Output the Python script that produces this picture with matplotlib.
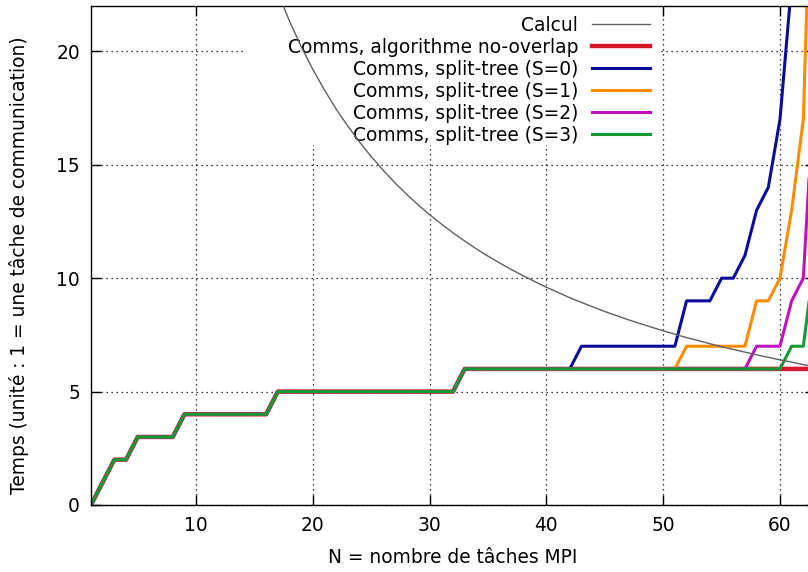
import matplotlib
matplotlib.use("Agg")
import matplotlib.pyplot as plt
from matplotlib.patches import Rectangle

# N = nombre de taches MPI
n_values = list(range(1, 64))

# algorithme no-overlap
no_overlap = ([0, 1, 2, 2] + [3] * 4 + [4] * 8 + [5] * 16 + [6] * 31)

# split-tree : identique au no-overlap puis decroche a droite
split_s0 = no_overlap[:42] + [7] * 9 + [9, 9, 9, 10, 10, 11, 13, 14, 17, 23, 30, 38]
split_s1 = no_overlap[:51] + [7] * 6 + [9, 9, 10, 13, 17, 34]
split_s2 = no_overlap[:57] + [7, 7, 7] + [9, 10, 19]
split_s3 = no_overlap[:60] + [7, 7, 11]

# temps de calcul
calcul_n = list(range(16, 64))
calcul = [24.0, 22.59, 21.33, 20.21, 19.2, 18.29, 17.45, 16.70, 16.0, 15.36,
          14.77, 14.22, 13.71, 13.24, 12.8, 12.39, 12.0, 11.64, 11.29, 10.97,
          10.67, 10.38, 10.11, 9.85, 9.6, 9.37, 9.14, 8.93, 8.73, 8.53,
          8.35, 8.17, 8.0, 7.84, 7.68, 7.53, 7.38, 7.25, 7.11, 6.98,
          6.86, 6.74, 6.62, 6.51, 6.4, 6.30, 6.19, 6.10]

W, H = 808, 572
fs = 13.4
plt.rcParams["font.family"] = ["DejaVu Sans"]

fig = plt.figure(figsize=(W / 100, H / 100), dpi=100)
ax = fig.add_axes([91 / W, (H - 505) / H, (815 - 91) / W, (505 - 6) / H])

ax.plot(calcul_n, calcul, color="#606060", lw=1.0, label="Calcul", zorder=6)
ax.plot(n_values, no_overlap, color="#d4172a", lw=3.2,
        label="Comms, algorithme no-overlap", zorder=2)
ax.plot(n_values, split_s0, color="#0c0c9c", lw=2.2,
        label="Comms, split-tree (S=0)", zorder=2)
ax.plot(n_values, split_s1, color="#ff8c00", lw=2.2,
        label="Comms, split-tree (S=1)", zorder=2)
ax.plot(n_values, split_s2, color="#c010c0", lw=2.2,
        label="Comms, split-tree (S=2)", zorder=2)
ax.plot(n_values, split_s3, color="#149a34", lw=2.2,
        label="Comms, split-tree (S=3)", zorder=2)

ax.set_xlim(1, 63)
ax.set_ylim(0, 22)
ax.set_xticks([10, 20, 30, 40, 50, 60])
ax.set_yticks([0, 5, 10, 15, 20])
ax.grid(True, color="black", linestyle=(0, (1, 3)), linewidth=0.9)
ax.set_axisbelow(True)
ax.tick_params(direction="in", top=True, right=True, length=7, width=1,
               labelsize=fs, pad=8)
for s in ax.spines.values():
    s.set_linewidth(1.0)

ax.set_xlabel("N = nombre de tâches MPI", fontsize=fs, labelpad=9)
ax.set_ylabel("Temps (unité : 1 = une tâche de communication)", fontsize=fs)
ax.yaxis.set_label_coords(-0.086, 0.481)

# fond blanc de la cle (masque la grille)
ax.add_patch(Rectangle((243 / W, 1 - 145 / H), (661 - 243) / W, 145 / H,
                       transform=fig.transFigure, facecolor="white",
                       edgecolor="none", zorder=1))

leg = ax.legend(loc="upper right", bbox_to_anchor=(650 / W, 1 - 16 / H),
                bbox_transform=fig.transFigure, markerfirst=False,
                frameon=False, fontsize=fs, handlelength=3.1,
                handletextpad=0.75, labelspacing=0.16, borderpad=0,
                borderaxespad=0)
leg.set_zorder(5)

fig.savefig("out.png", dpi=100)
